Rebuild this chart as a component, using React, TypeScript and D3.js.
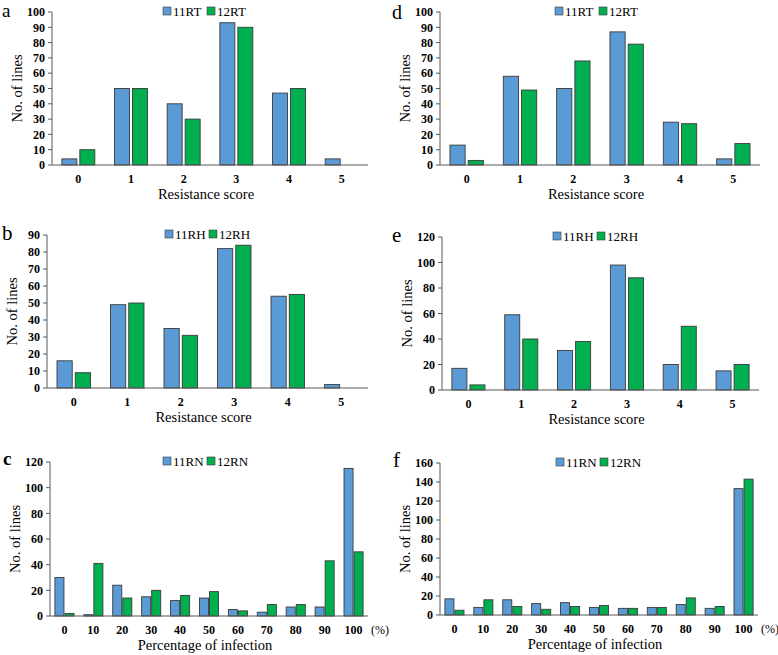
import React from "react";
import * as d3 from "d3";

// ---------- data ----------
const scoreCats = ["0", "1", "2", "3", "4", "5"];
const pctCats = ["0", "10", "20", "30", "40", "50", "60", "70", "80", "90", "100"];

const a11RT = [4, 50, 40, 93, 47, 4];
const a12RT = [10, 50, 30, 90, 50, 0];
const b11RH = [16, 49, 35, 82, 54, 2];
const b12RH = [9, 50, 31, 84, 55, 0];
const c11RN = [30, 1, 24, 15, 12, 14, 5, 3, 7, 7, 115];
const c12RN = [2, 41, 14, 20, 16, 19, 4, 9, 9, 43, 50];
const d11RT = [13, 58, 50, 87, 28, 4];
const d12RT = [3, 49, 68, 79, 27, 14];
const e11RH = [17, 59, 31, 98, 20, 15];
const e12RH = [4, 40, 38, 88, 50, 20];
const f11RN = [17, 8, 16, 12, 13, 8, 7, 8, 11, 7, 133];
const f12RN = [5, 16, 9, 6, 9, 10, 7, 8, 18, 9, 143];

const scoreTitle = "Resistance score";
const pctTitle = "Percentage of infection";

const BLUE = "#5b9bd5";
const GREEN = "#00b050";
const FONT = '"Liberation Serif", "Times New Roman", Times, "DejaVu Serif", serif';

type PanelProps = {
  letter: string;
  letterBold?: boolean;
  letterSize?: number;
  letterX: number;
  letterY: number;
  cats: string[];
  s1: number[];
  s2: number[];
  n1: string;
  n2: string;
  yMax: number;
  yStep: number;
  left: number;
  right: number;
  top: number;
  base: number;
  legendX: number;
  legendY: number;
  xTitle: string;
  pct?: boolean;
};

function Panel(p: PanelProps) {
  const x = d3
    .scaleBand<string>()
    .domain(p.cats)
    .range([p.left, p.right])
    .paddingInner(p.pct ? 0.34 : 0.374)
    .paddingOuter(p.pct ? 0.17 : 0.187);
  const sub = d3
    .scaleBand<string>()
    .domain(["a", "b"])
    .range([0, x.bandwidth()])
    .paddingInner(p.pct ? 0.1 : 0.167);
  const y = d3.scaleLinear().domain([0, p.yMax]).range([p.base, p.top]);
  const ticks = d3.range(0, p.yMax + p.yStep / 2, p.yStep);
  const midX = (p.left + p.right) / 2;
  const midY = (p.top + p.base) / 2;
  const axisColor = "#595959";
  const bars = (vals: number[], key: string, color: string) =>
    vals.map((v, i) =>
      v > 0 ? (
        <rect
          key={key + i}
          x={(x(p.cats[i]) as number) + (sub(key) as number)}
          y={y(v)}
          width={sub.bandwidth()}
          height={p.base - y(v)}
          fill={color}
          stroke="#3a3a3a"
          strokeWidth={0.9}
        />
      ) : null
    );
  return (
    <g style={{ fontFamily: FONT }}>
      <text
        x={p.letterX}
        y={p.letterY}
        fontSize={p.letterSize ?? (p.letterBold ? 19 : 21)}
        fontWeight={p.letterBold ? "bold" : "normal"}
      >
        {p.letter}
      </text>
      {/* y axis */}
      <line x1={p.left} x2={p.left} y1={p.top} y2={p.base} stroke={axisColor} strokeWidth={1} />
      {ticks.map((t) => (
        <g key={t}>
          <line x1={p.left - 4} x2={p.left} y1={y(t)} y2={y(t)} stroke={axisColor} strokeWidth={1} />
          <text
            x={p.left - 7}
            y={y(t)}
            dy="0.35em"
            textAnchor="end"
            fontSize={12}
            fontWeight="bold"
          >
            {t}
          </text>
        </g>
      ))}
      {bars(p.s1, "a", BLUE)}
      {bars(p.s2, "b", GREEN)}
      {/* x axis */}
      <line x1={p.left} x2={p.right} y1={p.base} y2={p.base} stroke={axisColor} strokeWidth={1} />
      {p.cats.map((c) => (
        <text
          key={c}
          x={(x(c) as number) + x.bandwidth() / 2}
          y={p.base + 18}
          textAnchor="middle"
          fontSize={12}
          fontWeight="bold"
        >
          {c}
        </text>
      ))}
      {p.pct ? (
        <text x={p.right + 3} y={p.base + 18} fontSize={12}>
          (%)
        </text>
      ) : null}
      <text x={midX - 4} y={p.base + 34} textAnchor="middle" fontSize={14.5}>
        {p.xTitle}
      </text>
      <text
        transform={`translate(${p.left - 30},${midY}) rotate(-90)`}
        textAnchor="middle"
        fontSize={14.5}
      >
        No. of lines
      </text>
      {/* legend */}
      <rect x={p.legendX} y={p.legendY - 4} width={8} height={8} fill={BLUE} stroke="#3a3a3a" strokeWidth={0.6} />
      <text x={p.legendX + 10} y={p.legendY} dy="0.35em" fontSize={13}>
        {p.n1}
      </text>
      <rect x={p.legendX + 44} y={p.legendY - 4} width={8} height={8} fill={GREEN} stroke="#3a3a3a" strokeWidth={0.6} />
      <text x={p.legendX + 54} y={p.legendY} dy="0.35em" fontSize={13}>
        {p.n2}
      </text>
    </g>
  );
}

export default function App() {
  return (
    <svg
      width={778}
      height={655}
      style={{ position: "absolute", left: 0, top: 0, background: "#fff" }}
    >
      <rect width={778} height={655} fill="#fff" />
      <Panel letter="a" letterSize={19} letterX={2} letterY={17} cats={scoreCats} s1={a11RT} s2={a12RT} n1="11RT" n2="12RT"
        yMax={100} yStep={10} left={52} right={368} top={12} base={165} legendX={163} legendY={11} xTitle={scoreTitle} />
      <Panel letter="d" letterSize={20} letterX={392} letterY={19} cats={scoreCats} s1={d11RT} s2={d12RT} n1="11RT" n2="12RT"
        yMax={100} yStep={10} left={440} right={760} top={12} base={165} legendX={555} legendY={11} xTitle={scoreTitle} />
      <Panel letter="b" letterX={2} letterY={240} cats={scoreCats} s1={b11RH} s2={b12RH} n1="11RH" n2="12RH"
        yMax={90} yStep={10} left={47} right={368} top={235} base={388} legendX={165} legendY={234} xTitle={scoreTitle} />
      <Panel letter="e" letterX={392} letterY={242} cats={scoreCats} s1={e11RH} s2={e12RH} n1="11RH" n2="12RH"
        yMax={120} yStep={20} left={442} right={759} top={237} base={390} legendX={553} legendY={236} xTitle={scoreTitle} />
      <Panel letter="c" letterBold letterX={3} letterY={465} cats={pctCats} s1={c11RN} s2={c12RN} n1="11RN" n2="12RN"
        yMax={120} yStep={20} left={50} right={368} top={462} base={616} legendX={163} legendY={461} xTitle={pctTitle} pct />
      <Panel letter="f" letterX={393} letterY={467} cats={pctCats} s1={f11RN} s2={f12RN} n1="11RN" n2="12RN"
        yMax={160} yStep={20} left={440} right={758} top={463} base={615} legendX={556} legendY={462} xTitle={pctTitle} pct />
    </svg>
  );
}
